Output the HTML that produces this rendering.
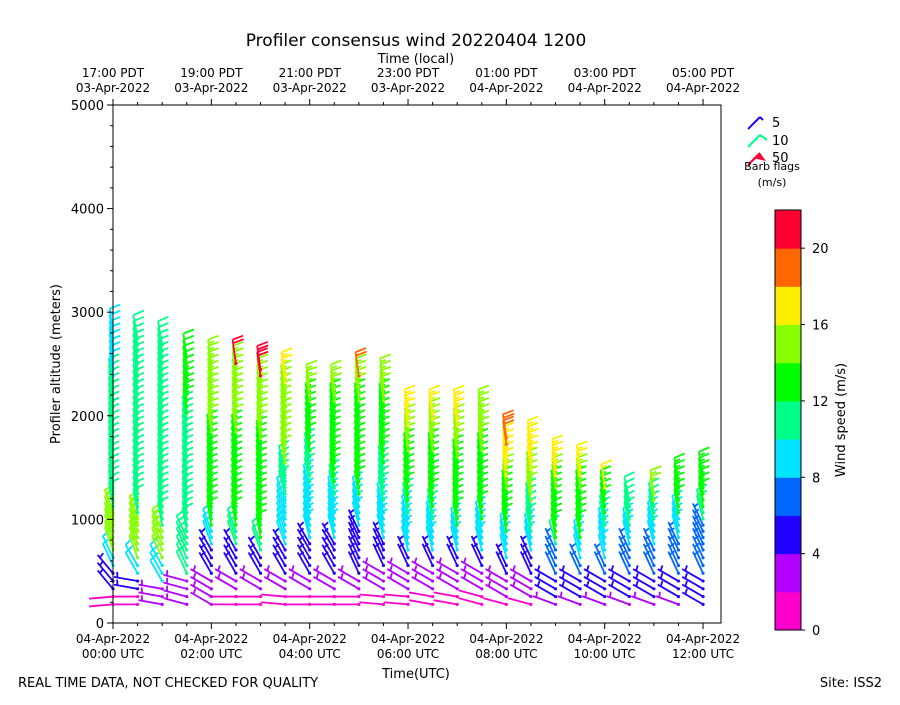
<!DOCTYPE html>
<html><head><meta charset="utf-8">
<style>
body{margin:0;background:#fff;width:900px;height:700px;overflow:hidden}
svg{font-family:"DejaVu Sans","Liberation Sans",sans-serif}
</style></head>
<body>
<svg id="chart" width="900" height="700" viewBox="0 0 900 700" xmlns="http://www.w3.org/2000/svg">
<text x="416" y="46" font-size="17" text-anchor="middle">Profiler consensus wind 20220404 1200</text>
<text x="416" y="63" font-size="13" text-anchor="middle">Time (local)</text>
<text x="416" y="678" font-size="13" text-anchor="middle">Time(UTC)</text>
<text transform="translate(60,364) rotate(-90)" font-size="13" text-anchor="middle">Profiler altitude (meters)</text>
<text x="18" y="687" font-size="13">REAL TIME DATA, NOT CHECKED FOR QUALITY</text>
<text x="882" y="687" font-size="13" text-anchor="end">Site: ISS2</text>
<g id="barbs"></g>
<rect x="113" y="105" width="608" height="518" fill="none" stroke="#000" stroke-width="1"/>
<g id="axes"></g>
<g id="legend">
 <line x1="748" y1="129" x2="760" y2="117" stroke="#2200ff" stroke-width="2"/>
 <line x1="760" y1="117" x2="763" y2="120" stroke="#2200ff" stroke-width="2"/>
 <text x="772" y="127" font-size="13">5</text>
 <line x1="748" y1="147" x2="760" y2="135" stroke="#00ff88" stroke-width="2"/>
 <line x1="760" y1="135" x2="767" y2="140" stroke="#00ff88" stroke-width="2"/>
 <text x="772" y="145" font-size="13">10</text>
 <line x1="748" y1="165" x2="760" y2="153" stroke="#ff0033" stroke-width="2"/>
 <polygon points="760,153 753,158 766,161" fill="#ff0033"/>
 <text x="772" y="162" font-size="13">50</text>
 <text x="772" y="170" font-size="11" text-anchor="middle">Barb flags</text>
 <text x="772" y="186" font-size="11" text-anchor="middle">(m/s)</text>
</g>
<g id="cbar"></g>
<text transform="translate(845,420) rotate(-90)" font-size="13" text-anchor="middle">Wind speed (m/s)</text>
</svg>
<script>
// time of each profile column in hours UTC
const colHours = [0,0.5,1,1.5,2,2.5,3,3.5,4,4.5,5,5.5,6,6.5,7,7.5,8,8.5,9,9.5,10,10.5,11,11.5,12];
// runs per column: [upToHeight(m), speed(m/s), directionFrom(deg)]
const col0=[[450,1.5,265],[650,5,320],[800,9,335],[1250,15,340],[2500,11,350],[3050,9,352]];
const col1=[[400,1.5,270],[550,5,280],[750,9,330],[1150,14,340],[3000,11,350]];
const col2=[[500,3,280],[700,9,330],[1050,14,335],[2950,11,350]];
const col3=[[550,3,285],[1000,11,335],[2150,11,350],[2450,13,352],[2850,12,352]];
const col4=[[250,1.5,270],[550,3,300],[850,5,330],[1050,9,340],[1950,13,350],[2650,15,352],[2780,17,352]];
const col5=[[420,1.5,270],[600,3,300],[900,5,330],[1050,11,340],[1950,13,350],[2600,15,352],[2780,21,352]];
const col6=[[420,1.5,270],[600,3,300],[800,5,330],[950,11,340],[1900,13,350],[2500,15,352],[2720,21,352]];
const col7=[[420,1.5,275],[600,3,300],[900,5,330],[1350,9,340],[1650,11,345],[2450,15,350],[2550,17,352],[2650,21,352]];
const col8=[[420,1.5,270],[600,3,300],[950,5,330],[1450,9,345],[1750,11,348],[2250,13,350],[2420,15,352],[2540,19,352]];
const col9=[[420,1.5,270],[600,3,300],[950,5,330],[1350,9,345],[1500,11,348],[2250,13,350],[2450,15,352],[2550,17,352]];
const col10=[[420,1.5,270],[600,3,300],[1050,5,335],[1350,9,345],[2250,13,350],[2500,15,352],[2650,19,352]];
const col11=[[420,1.5,275],[650,3,300],[950,5,335],[1300,9,345],[1650,11,348],[2250,13,350],[2600,15,352]];
const col12=[[400,1.5,275],[650,3,300],[800,5,335],[1150,9,345],[1300,11,348],[1800,13,350],[2000,15,352],[2300,17,352]];
const col13=[[400,1.5,280],[650,3,300],[800,5,335],[1100,9,345],[1250,11,348],[1800,13,350],[2050,15,352],[2300,17,352]];
const col14=[[400,1.5,280],[650,3,300],[800,5,335],[1050,9,345],[1700,13,350],[2000,15,352],[2280,16.5,352]];
const col15=[[400,1.5,285],[650,3,300],[800,5,335],[1100,9,345],[1800,13,350],[2300,15,352]];
const col16=[[350,1.5,285],[550,3,300],[750,5,335],[1000,9,345],[1400,13,350],[1550,15,352],[1850,17,352],[2030,19,352]];
const col17=[[350,1.5,285],[550,3,300],[800,5,335],[1000,9,345],[1300,11,348],[1600,15,350],[2000,17,352]];
const col18=[[350,3,290],[550,5,300],[850,7,335],[950,11,345],[1400,13,350],[1550,15,352],[1780,17,352]];
const col19=[[350,3,290],[550,5,300],[750,7,335],[950,9,345],[1400,13,350],[1550,15,352],[1730,17,352]];
const col20=[[350,3,290],[550,5,300],[750,7,335],[1050,9,345],[1150,11,348],[1400,13,350],[1580,16.5,352]];
const col21=[[350,3,290],[550,5,300],[850,7,335],[1050,9,345],[1350,11,348],[1460,15,352]];
const col22=[[350,3,290],[550,5,300],[850,7,335],[1100,9,345],[1300,11,348],[1530,15,352]];
const col23=[[350,3,290],[550,5,300],[950,6,335],[1200,9,345],[1600,13,350]];
const col24=[[300,3,290],[550,4.5,300],[1100,6,335],[1250,11,345],[1700,13,350]];
const colRuns=[col0,col1,col2,col3,col4,col5,col6,col7,col8,col9,col10,col11,col12,col13,col14,col15,col16,col17,col18,col19,col20,col21,col22,col23,col24];
const yTicks=[0,1000,2000,3000,4000,5000];
const xTickHours=[0,2,4,6,8,10,12];
const utcLabels=["00:00 UTC","02:00 UTC","04:00 UTC","06:00 UTC","08:00 UTC","10:00 UTC","12:00 UTC"];
const localLabels=["17:00 PDT","19:00 PDT","21:00 PDT","23:00 PDT","01:00 PDT","03:00 PDT","05:00 PDT"];
const utcDates=["04-Apr-2022","04-Apr-2022","04-Apr-2022","04-Apr-2022","04-Apr-2022","04-Apr-2022","04-Apr-2022"];
const localDates=["03-Apr-2022","03-Apr-2022","03-Apr-2022","03-Apr-2022","04-Apr-2022","04-Apr-2022","04-Apr-2022"];
const cbColors=["#ff00cc","#b300ff","#2200ff","#0066ff","#00e5ff","#00ff88","#00ff00","#88ff00","#ffee00","#ff6600","#ff0033"];
const cbTicks=[0,4,8,12,16,20];

const NS="http://www.w3.org/2000/svg";
const X0=113,X1=721,Y0=623,Y1=105;
const STAFF=24;
function xs(h){return X0+h*49.17;}
function ys(m){return Y0-(m/5000)*(Y0-Y1);}
function colorFor(s){return cbColors[Math.max(0,Math.min(10,Math.floor(s/2)))];}
function mk(tag,attrs,parent){const e=document.createElementNS(NS,tag);for(const k in attrs)e.setAttribute(k,attrs[k]);parent.appendChild(e);return e;}

const axes=document.getElementById('axes');
yTicks.forEach(v=>{
  const l=mk('line',{x1:X0-6,x2:X0,y1:ys(v),y2:ys(v),stroke:'#000'},axes);
  
  
  const t=mk('text',{x:X0-9,y:ys(v)+5,'font-size':13,'text-anchor':'end'},axes);
  
  
  t.textContent=v;
});
for(let v=200;v<5000;v+=200){if(v%1000===0)continue;
  const l=mk('line',{x1:X0-3,x2:X0,y1:ys(v),y2:ys(v),stroke:'#000'},axes);
  
  
}
for(let h=0;h<=12.3;h+=0.5){
  const major=(h%2===0);
  const l=mk('line',{x1:xs(h),x2:xs(h),y1:Y0,y2:Y0+(major?6:3),stroke:'#000'},axes);
  
  
  const l2=mk('line',{x1:xs(h),x2:xs(h),y1:Y1,y2:Y1-(major?6:3),stroke:'#000'},axes);
  
  
}
xTickHours.forEach((h,i)=>{
  const t=mk('text',{x:xs(h),y:643,'font-size':12,'text-anchor':'middle'},axes);
  
  
  t.textContent=utcDates[i];
  const t2=mk('text',{x:xs(h),y:658,'font-size':12,'text-anchor':'middle'},axes);
  
  
  t2.textContent=utcLabels[i];
  const t3=mk('text',{x:xs(h),y:77,'font-size':12,'text-anchor':'middle'},axes);
  
  
  t3.textContent=localLabels[i];
  const t4=mk('text',{x:xs(h),y:92,'font-size':12,'text-anchor':'middle'},axes);
  
  
  t4.textContent=localDates[i];
});

const bg=document.getElementById('barbs');
function barb(x,y,s,d){
  const c=colorFor(s);const r=d*Math.PI/180;
  const sx=Math.sin(r),sy=-Math.cos(r);const px=-sy,py=sx;const L=STAFF;
  const g=mk('g',{stroke:c,'stroke-width':1.8,fill:'none'},bg);
  
  
  const tx=x+sx*L,ty=y+sy*L;
  mk('line',{x1:x,y1:y,x2:tx,y2:ty},g);
  mk('circle',{cx:x,cy:y,r:1.6,fill:c,stroke:'none'},g);
  let rem=Math.round(s/5)*5;let pos=0;
  if(rem===0)return;
  while(rem>=10){const bx=tx-sx*pos,by=ty-sy*pos;
    mk('line',{x1:bx,y1:by,x2:bx+px*11+sx*2.5,y2:by+py*11+sy*2.5},g);rem-=10;pos+=3.5;}
  if(rem>=5){if(pos===0)pos=3.5;const bx=tx-sx*pos,by=ty-sy*pos;
    mk('line',{x1:bx,y1:by,x2:bx+px*5.5+sx*1.2,y2:by+py*5.5+sy*1.2},g);}
}
function runAt(runs,h){for(const r of runs){if(h<=r[0])return r;}return runs[runs.length-1];}
const mPerPx=5000/(Y0-Y1);
colRuns.forEach((runs,i)=>{
  const x=xs(colHours[i]);
  const last=runs[runs.length-1];
  const tipOff=STAFF*mPerPx*Math.max(0,Math.cos(last[2]*Math.PI/180));
  const maxPt=last[0]-tipOff;
  let h=180;
  while(h<=maxPt){
    const r=runAt(runs,h+tipOff*0.6);
    barb(x,ys(h),r[1],r[2]);
    h+= h<650?75:60;
  }
});

const cb=document.getElementById('cbar');
const CBX=775,CBW=26,CBT=210,CBB=630,bh=(CBB-CBT)/cbColors.length;
cbColors.forEach((c,i)=>{
  const r=mk('rect',{x:CBX,y:CBB-(i+1)*bh,width:CBW,height:bh+0.5,fill:c},cb);
  
  
});
mk('rect',{x:CBX,y:CBT,width:CBW,height:CBB-CBT,fill:'none',stroke:'#000'},cb);
cbTicks.forEach(v=>{
  const y=CBB-v/22*(CBB-CBT);
  mk('line',{x1:CBX+CBW,x2:CBX+CBW+4,y1:y,y2:y,stroke:'#000'},cb);
  const t=mk('text',{x:CBX+CBW+11,y:y+5,'font-size':13},cb);
  
  
  t.textContent=v;
});
</script>
</body></html>
